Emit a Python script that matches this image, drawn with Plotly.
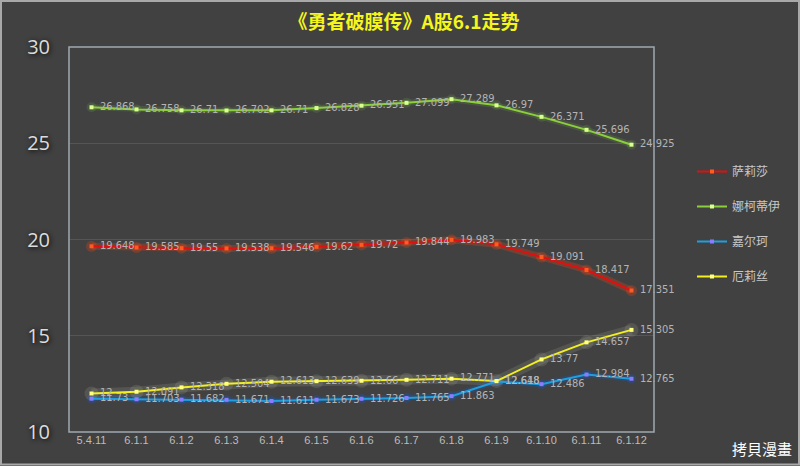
import plotly.graph_objects as go

categories = ["5.4.11", "6.1.1", "6.1.2", "6.1.3", "6.1.4", "6.1.5", "6.1.6",
              "6.1.7", "6.1.8", "6.1.9", "6.1.10", "6.1.11", "6.1.12"]

salisha = [19.648, 19.585, 19.55, 19.538, 19.546, 19.62, 19.72, 19.844, 19.983,
           19.749, 19.091, 18.417, 17.351]
nakediyi = [26.868, 26.758, 26.71, 26.702, 26.71, 26.828, 26.951, 27.099, 27.289,
            26.97, 26.371, 25.696, 24.925]
jiaerke = [11.73, 11.703, 11.682, 11.671, 11.611, 11.673, 11.726, 11.765, 11.863,
           12.618, 12.486, 12.984, 12.765]
elisi = [12, 12.091, 12.318, 12.504, 12.613, 12.639, 12.66, 12.711, 12.771,
         12.648, 13.77, 14.657, 15.305]

y_ticks = [10, 15, 20, 25, 30]

series = [
    ("萨莉莎", salisha, "#e01010", "#ff5a20", "rgba(255,70,20,0.25)", 7),
    ("娜柯蒂伊", nakediyi, "#8ccf3c", "#d8ff90", "rgba(150,230,80,0.12)", 6),
    ("嘉尔珂", jiaerke, "#1ea0e0", "#8a7cff", "rgba(20,90,200,0.25)", 6),
    ("厄莉丝", elisi, "#f2f020", "#ffff80", "rgba(255,255,225,0.10)", 10),
]

fig = go.Figure()

# soft glow layers
for name, vals, lc, mc, glow, gw in series:
    fig.add_trace(go.Scatter(
        x=categories, y=vals, mode="lines+markers",
        line=dict(color=glow, width=gw),
        marker=dict(color=glow, size=gw + 4, symbol="circle"),
        showlegend=False, hoverinfo="skip",
    ))

for name, vals, lc, mc, glow, gw in series:
    fig.add_trace(go.Scatter(
        x=categories, y=vals, mode="lines+markers+text", name=name,
        legendgroup=name,
        line=dict(color=lc, width=2),
        marker=dict(color=mc, size=4, symbol="square"),
        text=["\u2002" + str(v) for v in vals], textposition="middle right",
        textfont=dict(family="DejaVu Sans Condensed, DejaVu Sans, sans-serif",
                      size=11, color="#b4b4b4"),
        cliponaxis=False,
    ))

W, H = 800, 466
L, R, T, B = 69, 146, 47, 34
pw, ph = W - L - R, H - T - B

fig.update_layout(
    width=W, height=H,
    margin=dict(l=L, r=R, t=T, b=B),
    paper_bgcolor="#414141", plot_bgcolor="#414141",
    title=dict(text="<b>《勇者破膜传》A股6.1走势</b>", x=0.505, xanchor="center",
               y=1 - 22 / H, yanchor="middle",
               font=dict(family="Noto Sans CJK SC", size=19, color="#f5f51e")),
    xaxis=dict(type="category", range=[-0.5, 12.5], showgrid=False, zeroline=False,
               showline=False, ticks="",
               tickfont=dict(family="Liberation Sans Narrow, Liberation Sans, sans-serif",
                             size=11, color="#bcbcbc")),
    yaxis=dict(range=[10, 30], tickvals=y_ticks, showgrid=True, gridcolor="#555555",
               gridwidth=1, zeroline=False, showline=False, ticks="",
               ticklabelstandoff=18,
               tickfont=dict(family="Open Sans, sans-serif", size=20, color="#dcdcdc",
                             shadow="1px 1px 5px #000000")),
    legend=dict(x=(692 - L) / pw, xanchor="left", y=(H - B - 157) / ph, yanchor="top",
                bgcolor="rgba(0,0,0,0)", itemwidth=30, tracegroupgap=16,
                font=dict(family="Noto Sans CJK SC", size=12, color="#c8c8c8")),
    shapes=[
        dict(type="rect", xref="paper", yref="paper", x0=0, x1=1, y0=0, y1=1,
             line=dict(color="#9ea8b0", width=1.5), layer="above"),
        dict(type="rect", xref="paper", yref="paper",
             x0=(1 - L) / pw, x1=(W - 1 - L) / pw,
             y0=(H - B - (H - 1.5)) / ph, y1=(H - B - 1) / ph,
             line=dict(color="#a8a8a8", width=2)),
    ],
    annotations=[
        dict(text="拷貝漫畫", xref="paper", yref="paper",
             x=(762 - L) / pw, y=(H - B - 449) / ph, xanchor="center", yanchor="middle",
             showarrow=False,
             font=dict(family="Noto Sans CJK TC", size=15, color="#ffffff")),
    ],
)

fig.write_html("out.html", config={"displayModeBar": False},
               post_script="document.body.style.margin='0';document.body.style.overflow='hidden';")
